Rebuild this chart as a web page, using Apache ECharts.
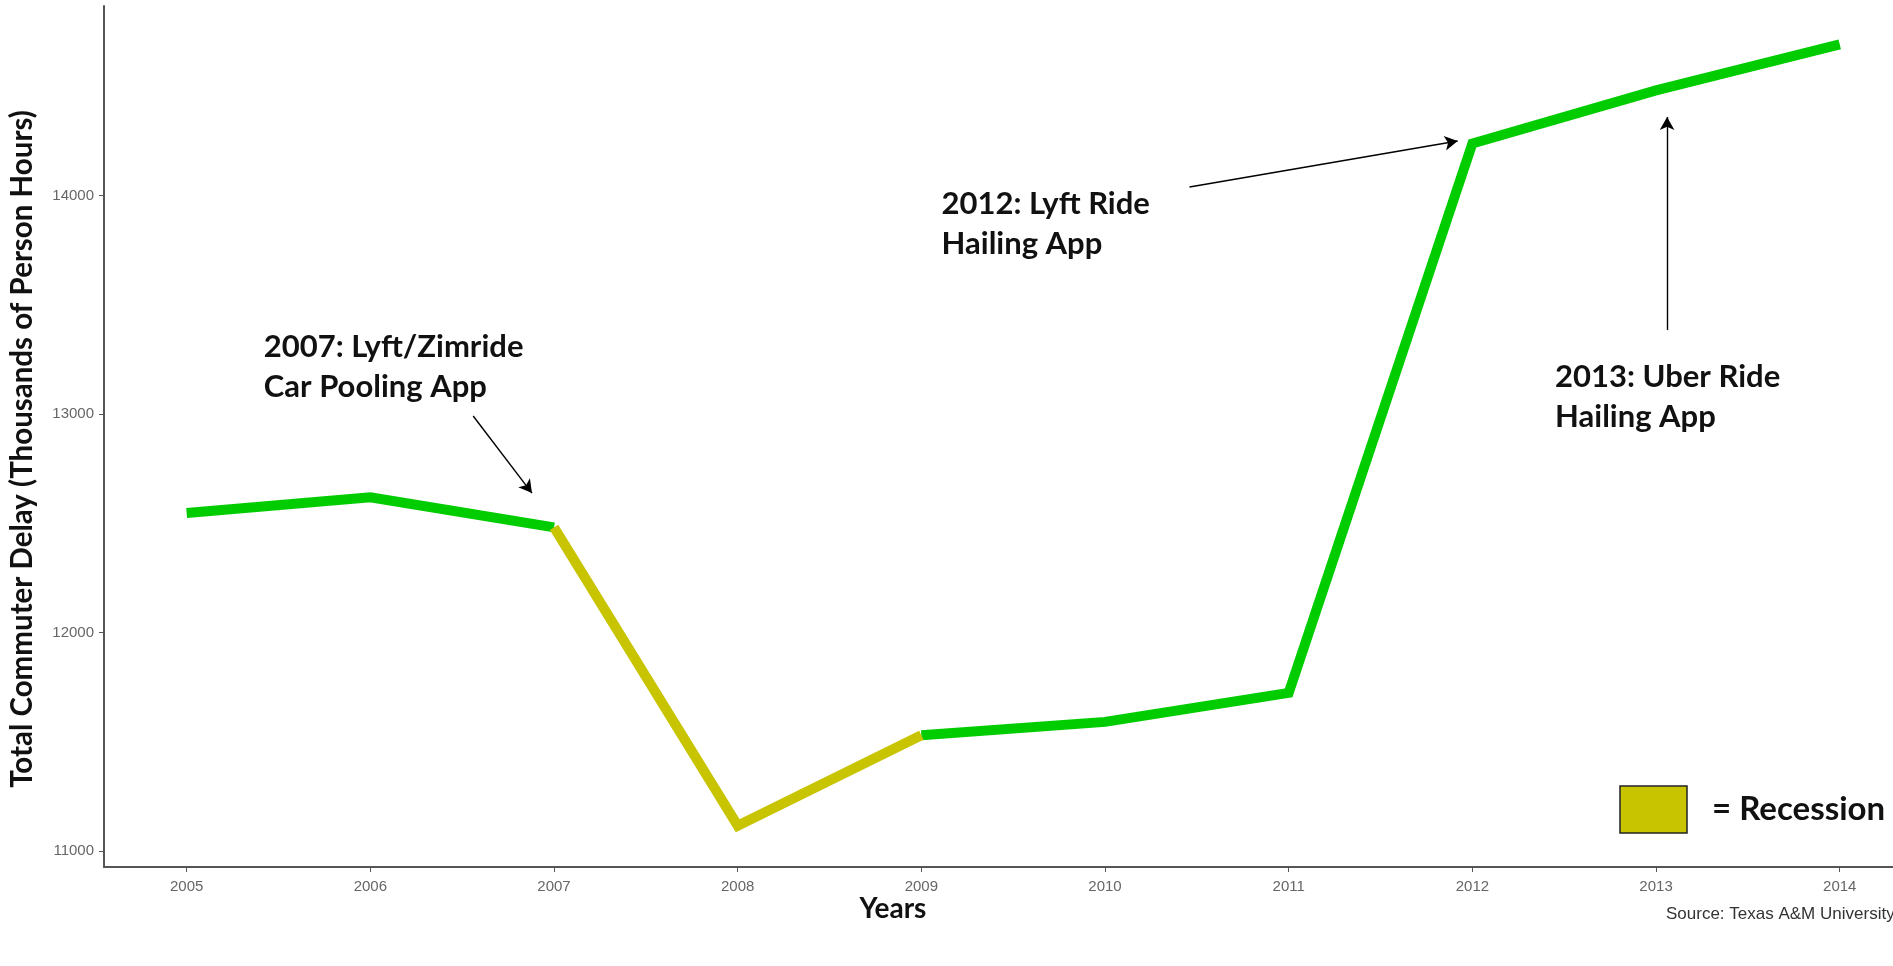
<!DOCTYPE html>
<html>
<head>
<meta charset="utf-8">
<title>Commuter Delay</title>
<script src="https://cdn.jsdelivr.net/npm/echarts@6/dist/echarts.min.js"></script>
<style>
  html, body { margin: 0; padding: 0; background: #fff; }
  #main { width: 1893px; height: 966px; }
</style>
</head>
<body>
<div id="main"></div>
<script>
// data
var years = [2005, 2006, 2007, 2008, 2009, 2010, 2011, 2012, 2013, 2014];
var delay = [12547, 12619, 12481, 11116, 11530, 11591, 11724, 14238, 14481, 14691];
var recessionStart = 2007;
var recessionEnd = 2009;
var yTicks = [11000, 12000, 13000, 14000];

// notes: text top-left and arrow start/end, in data units
var notes = [
  { text: '2007: Lyft/Zimride\nCar Pooling App', at: [2005.42, 13398], from: [2006.56, 12991], to: [2006.88, 12638] },
  { text: '2012: Lyft Ride\nHailing App', at: [2009.11, 14054], from: [2010.46, 14039], to: [2011.92, 14249] },
  { text: '2013: Uber Ride\nHailing App', at: [2012.45, 13259], from: [2013.06, 13384], to: [2013.06, 14359] }
];

var GREEN = '#00cc00';
var OLIVE = '#c8c400';

function pick(test) {
  var out = [];
  years.forEach(function (y, i) { if (test(y)) out.push([y, delay[i]]); });
  return out;
}

var before = pick(function (y) { return y <= recessionStart; });
var during = pick(function (y) { return y >= recessionStart && y <= recessionEnd; });
var after = pick(function (y) { return y >= recessionEnd; });

function seg(data, color) {
  return {
    type: 'line',
    data: data,
    showSymbol: false,
    silent: true,
    lineStyle: { color: color, width: 10, cap: 'butt', join: 'miter' },
    z: 3
  };
}

var labelFont = { color: '#666', fontFamily: 'Liberation Sans', fontSize: 15 };

var chart = echarts.init(document.getElementById('main'));
var option = {
  animation: false,
  grid: { left: 104, right: 0, top: 6, bottom: 99, containLabel: false },
  xAxis: {
    type: 'value',
    min: 2004.55,
    max: 2014.29,
    splitLine: { show: false },
    axisLine: { lineStyle: { color: '#555', width: 2 } },
    axisTick: { show: true, length: 5, lineStyle: { color: '#555' }, customValues: years },
    axisLabel: Object.assign({ margin: 12, customValues: years, formatter: function (v) { return String(v); } }, labelFont)
  },
  yAxis: {
    type: 'value',
    min: 10927,
    max: 14867,
    splitLine: { show: false },
    axisLine: { show: true, lineStyle: { color: '#555', width: 2 } },
    axisTick: { show: true, length: 5, lineStyle: { color: '#555' }, customValues: yTicks },
    axisLabel: Object.assign({ margin: 10, customValues: yTicks, formatter: function (v) { return String(v); } }, labelFont)
  },
  series: [
    seg(before, GREEN),
    seg(after, GREEN),
    seg(during, OLIVE),
    {
      type: 'line',
      data: [],
      silent: true,
      markLine: {
        silent: true,
        symbol: ['none', 'arrow'],
        symbolSize: [11, 13],
        label: { show: false },
        lineStyle: { color: '#000', width: 1.4, type: 'solid' },
        emphasis: { disabled: true },
        data: notes.map(function (n) {
          return [{ coord: n.from }, { coord: n.to }];
        })
      }
    }
  ]
};
chart.setOption(option);

var graphics = notes.map(function (n) {
  var p = chart.convertToPixel({ gridIndex: 0 }, n.at);
  return {
    type: 'text',
    x: p[0], y: p[1],
    style: { text: n.text, fontFamily: 'Lato', fontWeight: 'bold', fontSize: 31, lineHeight: 40, fill: '#111', verticalAlign: 'top' }
  };
});

graphics.push(
  { type: 'rect', shape: { x: 1620, y: 786, width: 67, height: 47 }, style: { fill: OLIVE, stroke: '#222', lineWidth: 1.5 } },
  { type: 'text', x: 1712, y: 809, style: { text: '= Recession', fontFamily: 'Lato', fontWeight: 'bold', fontSize: 33, fill: '#111', verticalAlign: 'middle' } },
  { type: 'text', x: 893, y: 909, style: { text: 'Years', fontFamily: 'Lato', fontWeight: 'bold', fontSize: 28, fill: '#111', align: 'center', verticalAlign: 'middle' } },
  { type: 'text', x: 22, y: 449, rotation: Math.PI / 2, style: { text: 'Total Commuter Delay (Thousands of Person Hours)', fontFamily: 'Lato', fontWeight: 'bold', fontSize: 29.5, fill: '#111', align: 'center', verticalAlign: 'middle' } },
  { type: 'text', x: 1666, y: 914, style: { text: 'Source: Texas A&M University', fontFamily: 'Liberation Sans', fontSize: 17, fill: '#333', verticalAlign: 'middle' } }
);

chart.setOption({ graphic: graphics });
</script>
</body>
</html>
